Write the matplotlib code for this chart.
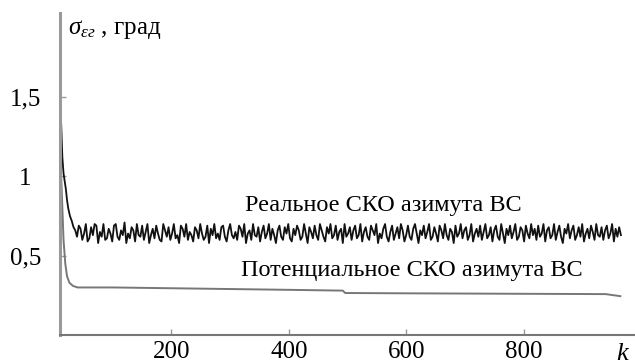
import numpy as np
import matplotlib
matplotlib.use('Agg')
import matplotlib.pyplot as plt

plt.rcParams['font.family'] = ['Liberation Serif', 'DejaVu Serif']
plt.rcParams['mathtext.fontset'] = 'custom'
plt.rcParams['mathtext.rm'] = 'Liberation Serif'
plt.rcParams['mathtext.it'] = 'Liberation Serif:italic'

# real SKO: fast decay, then noisy band
real_head_k = [12, 13, 14, 16, 18, 20, 22, 24, 27, 30, 33]
real_head = [1.33, 1.22, 1.12, 1.02, 0.97, 0.92, 0.85, 0.80, 0.75, 0.72, 0.68]
real_noise = [
    0.66, 0.62, 0.69, 0.67, 0.60, 0.64, 0.70, 0.59, 0.61, 0.68, 0.63, 0.70, 0.69, 0.58, 0.65, 0.62, 0.70, 0.60, 0.61, 0.67,
    0.64, 0.59, 0.69, 0.70, 0.62, 0.60, 0.66, 0.63, 0.71, 0.58, 0.64, 0.61, 0.68, 0.66, 0.59, 0.70, 0.63, 0.62, 0.69, 0.60,
    0.65, 0.70, 0.58, 0.63, 0.67, 0.61, 0.69, 0.64, 0.60, 0.59, 0.70, 0.66, 0.62, 0.68, 0.60, 0.64, 0.70, 0.61, 0.63, 0.58,
    0.69, 0.67, 0.62, 0.70, 0.60, 0.65, 0.63, 0.59, 0.68, 0.66, 0.61, 0.70, 0.64, 0.60, 0.62, 0.69, 0.58, 0.67, 0.63, 0.70,
    0.61, 0.64, 0.60, 0.68, 0.69, 0.62, 0.59, 0.66, 0.70, 0.63, 0.61, 0.65, 0.60, 0.69, 0.67, 0.62, 0.70, 0.58, 0.64, 0.66,
    0.60, 0.70, 0.63, 0.62, 0.68, 0.59, 0.65, 0.69, 0.61, 0.64, 0.70, 0.60, 0.67, 0.63, 0.58, 0.66, 0.69, 0.62, 0.60, 0.68,
    0.64, 0.70, 0.61, 0.59, 0.67, 0.63, 0.69, 0.66, 0.60, 0.62, 0.70, 0.64, 0.58, 0.68, 0.65, 0.61, 0.69, 0.63, 0.60, 0.70,
    0.66, 0.62, 0.59, 0.68, 0.64, 0.70, 0.61, 0.63, 0.69, 0.60, 0.65, 0.67, 0.58, 0.70, 0.62, 0.64, 0.68, 0.60, 0.66, 0.69,
    0.61, 0.63, 0.70, 0.59, 0.65, 0.68, 0.62, 0.60, 0.69, 0.66, 0.63, 0.70, 0.58, 0.64, 0.61, 0.67, 0.70, 0.62, 0.59, 0.65,
    0.69, 0.60, 0.64, 0.68, 0.61, 0.70, 0.66, 0.59, 0.63, 0.69, 0.62, 0.60, 0.67, 0.70, 0.64, 0.58, 0.66, 0.63, 0.69, 0.61,
    0.65, 0.70, 0.60, 0.62, 0.68, 0.64, 0.59, 0.69, 0.66, 0.61, 0.70, 0.63, 0.60, 0.67, 0.65, 0.58, 0.69, 0.62, 0.64, 0.70,
    0.61, 0.66, 0.68, 0.60, 0.63, 0.70, 0.59, 0.64, 0.67, 0.62, 0.69, 0.60, 0.65, 0.70, 0.61, 0.63, 0.68, 0.59, 0.66, 0.69,
    0.62, 0.60, 0.70, 0.64, 0.58, 0.67, 0.63, 0.69, 0.61, 0.65, 0.70, 0.60, 0.62, 0.68, 0.66, 0.59, 0.69, 0.64, 0.61, 0.70,
    0.63, 0.67, 0.60, 0.69, 0.62, 0.64, 0.70, 0.59, 0.66, 0.68, 0.61, 0.63, 0.70, 0.60, 0.65, 0.69, 0.62, 0.58, 0.67, 0.64,
    0.70, 0.61, 0.66, 0.69, 0.60, 0.63, 0.68, 0.62, 0.70, 0.59, 0.64, 0.67, 0.61, 0.69, 0.65, 0.60, 0.70, 0.63, 0.62, 0.68,
    0.60, 0.66, 0.69, 0.61, 0.64, 0.70, 0.59, 0.67, 0.62, 0.68, 0.63,
]
noise_k = 36 + 3 * np.arange(len(real_noise))

# potential SKO
pot_k = [12, 14, 16, 19, 22, 26, 32, 40, 100, 200, 300, 400, 492, 496, 600, 800, 940, 965]
pot = [1.00, 0.80, 0.60, 0.45, 0.37, 0.33, 0.31, 0.30, 0.30, 0.295, 0.29, 0.285, 0.28, 0.265,
       0.263, 0.26, 0.258, 0.245]

xticks = [200, 400, 600, 800]
yticks = [0.5, 1.0, 1.5]
ytick_labels = ['0,5', '1', '1,5']

fig = plt.figure(figsize=(6.35, 3.6), dpi=100)
ax = fig.add_axes([0.0945, 0.0694, 0.9055, 0.894])

ax.plot(pot_k, pot, color='#777777', linewidth=1.4)
ax.plot(list(real_head_k) + list(noise_k), real_head + real_noise, color='#111111', linewidth=1.3)

ax.set_xlim(10, 990)
ax.set_ylim(0, 2.03)
ax.spines['top'].set_visible(False)
ax.spines['right'].set_visible(False)
ax.spines['left'].set_color('#999999')
ax.spines['left'].set_linewidth(2.2)
ax.spines['bottom'].set_color('#777777')
ax.spines['bottom'].set_linewidth(1.5)

ax.set_xticks(xticks)
ax.set_yticks(yticks)
ax.set_yticklabels(ytick_labels)
ax.tick_params(axis='both', direction='in', length=4, width=1, color='#999999',
               labelsize=18)
ax.tick_params(axis='x', pad=4)
ax.tick_params(axis='y', pad=25)
for lab in ax.get_yticklabels():
    lab.set_horizontalalignment('center')

ax.text(968, -0.12, 'k', fontsize=19, style='italic', ha='center', va='center', clip_on=False)
ax.text(24, 1.93, r'$\sigma_{\varepsilon г}$' + ' , град', fontsize=18, ha='left', va='center')
ax.text(326, 0.82, 'Реальное СКО азимута ВС', fontsize=17.5, ha='left', va='center')
ax.text(318, 0.405, 'Потенциальное СКО азимута ВС', fontsize=17.5, ha='left', va='center')

fig.savefig('out.png', dpi=100)
